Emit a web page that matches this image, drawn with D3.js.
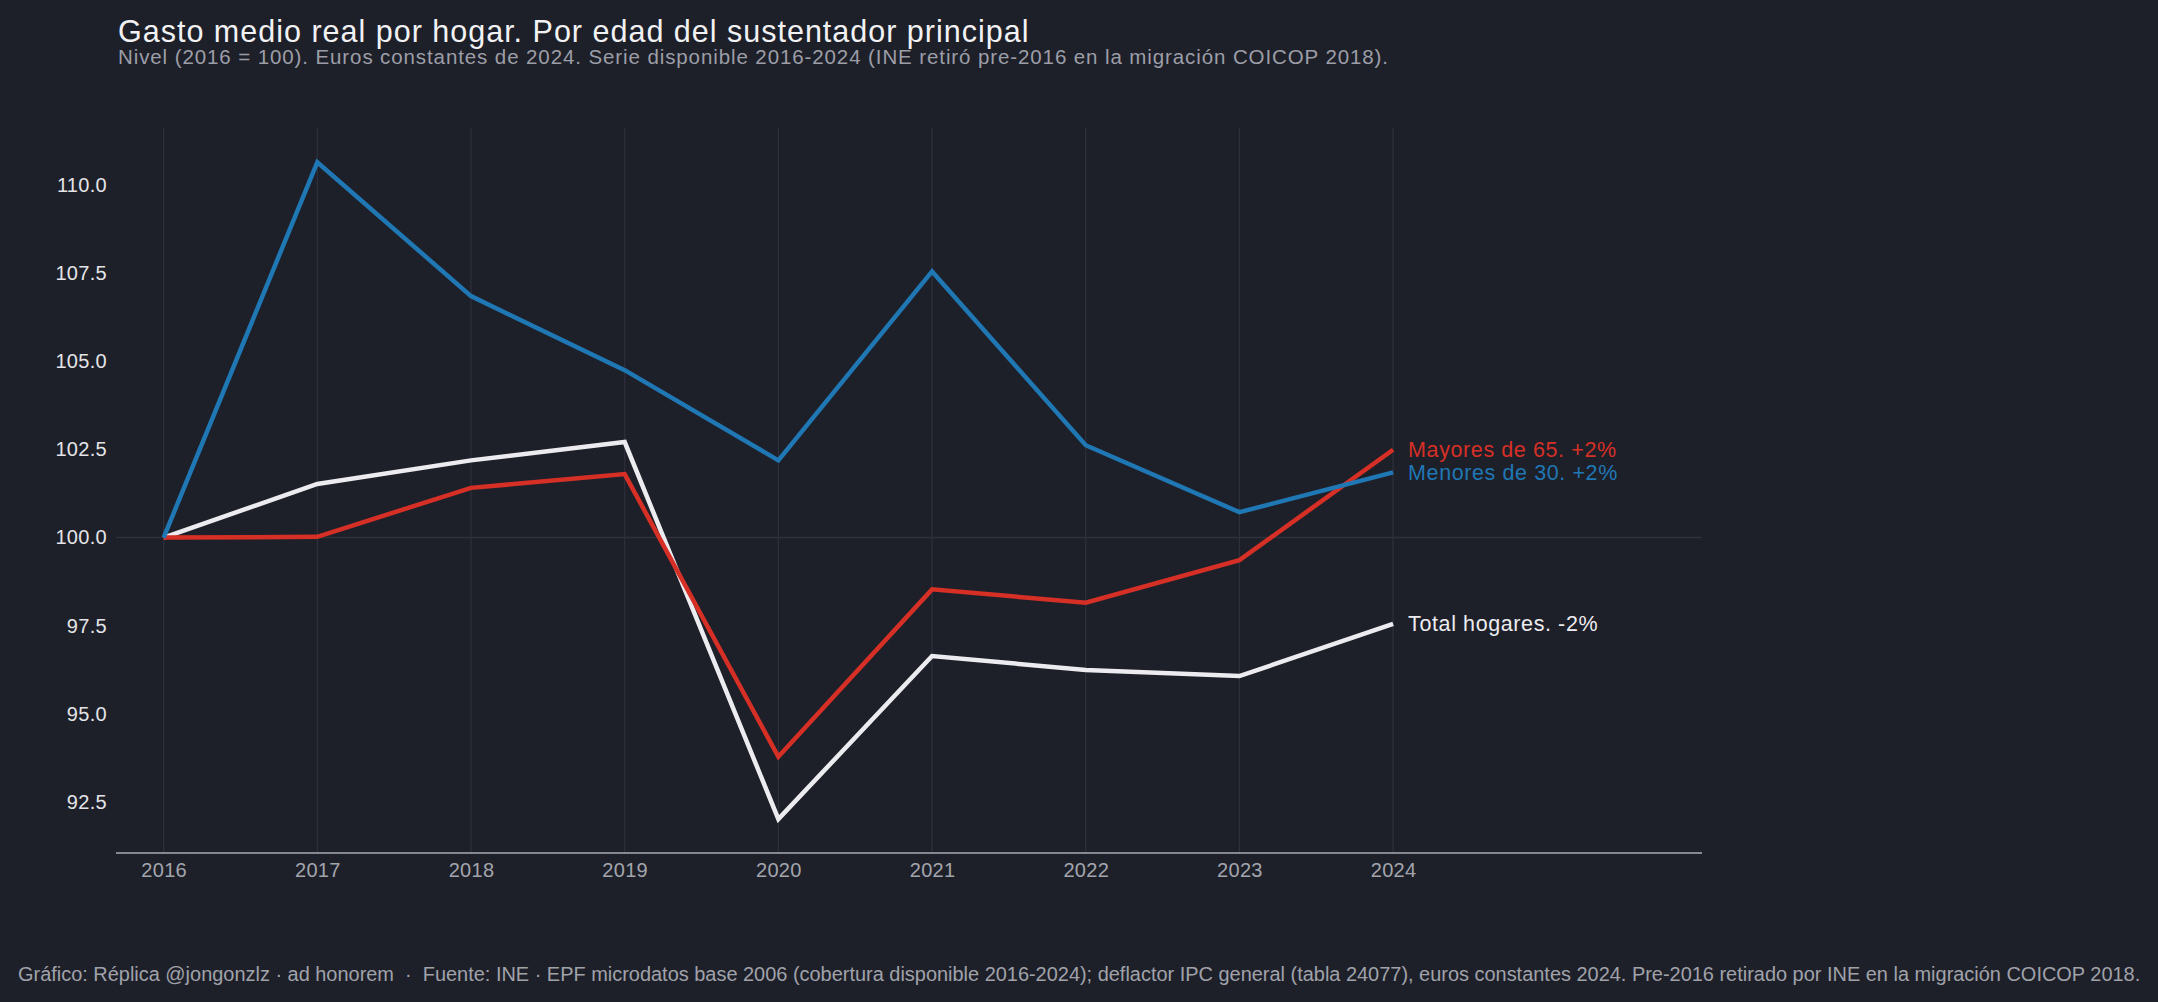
<!DOCTYPE html>
<html>
<head>
<meta charset="utf-8">
<script src="https://cdn.jsdelivr.net/npm/d3@7"></script>
<style>
  html, body { margin: 0; padding: 0; background: #1e2029; }
  svg { display: block; font-family: "Liberation Sans", Arial, Helvetica, sans-serif; }
</style>
</head>
<body>
<svg id="chart" width="2158" height="1002"></svg>
<script>
const years = [2016, 2017, 2018, 2019, 2020, 2021, 2022, 2023, 2024];
const menores30 = [100.0, 110.65, 106.85, 104.75, 102.19, 107.55, 102.62, 100.72, 101.85];
const mayores65 = [100.0, 100.02, 101.41, 101.80, 93.78, 98.53, 98.15, 99.36, 102.49];
const totalHogares = [100.0, 101.52, 102.19, 102.71, 92.01, 96.64, 96.24, 96.07, 97.55];
const yTicks = [92.5, 95.0, 97.5, 100.0, 102.5, 105.0, 107.5, 110.0];
const seriesNames = ["Total hogares. -2%", "Menores de 30. +2%", "Mayores de 65. +2%"];
const seriesColors = ["#ececf0", "#1f77b4", "#d62f26"];
const titleText = "Gasto medio real por hogar. Por edad del sustentador principal";
const subtitleText = "Nivel (2016 = 100). Euros constantes de 2024. Serie disponible 2016-2024 (INE retiró pre-2016 en la migración COICOP 2018).";
const footerText = "Gráfico: Réplica @jongonzlz · ad honorem  ·  Fuente: INE · EPF microdatos base 2006 (cobertura disponible 2016-2024); deflactor IPC general (tabla 24077), euros constantes 2024. Pre-2016 retirado por INE en la migración COICOP 2018.";

(function () {
const series = [totalHogares, menores30, mayores65];

const svg = d3.select("#chart");
svg.append("rect").attr("width", 2158).attr("height", 1002).attr("fill", "#1e2029");

const pL = 116, pR = 1702, pT = 128, pB = 853;
const x = d3.scaleLinear().domain([2015.69, 2026.01]).range([pL, pR]);
const y = d3.scaleLinear().domain([91.05, 111.62]).range([pB, pT]);

// vertical gridlines
svg.append("g").selectAll("line").data(years).join("line")
  .attr("x1", d => x(d)).attr("x2", d => x(d))
  .attr("y1", pT).attr("y2", pB)
  .attr("stroke", "#2e303b").attr("stroke-width", 1.2);

// reference line at 100
svg.append("line")
  .attr("x1", pL).attr("x2", pR)
  .attr("y1", y(100)).attr("y2", y(100))
  .attr("stroke", "#2e303b").attr("stroke-width", 1.6);

// x axis
const xAxis = svg.append("g").attr("transform", `translate(0,${pB})`)
  .call(d3.axisBottom(x).tickValues(years).tickFormat(d3.format("d")).tickSize(0).tickPadding(10));
xAxis.select(".domain").attr("stroke", "#a9abb3").attr("stroke-width", 1.6)
  .attr("d", `M${pL},0H${pR}`);
xAxis.selectAll("text").attr("fill", "#a3a5ad").attr("font-size", 20)
  .attr("font-family", "Liberation Sans, Arial, sans-serif").attr("letter-spacing", 0.3);

// y axis
const yAxis = svg.append("g").attr("transform", `translate(${pL},0)`)
  .call(d3.axisLeft(y).tickValues(yTicks).tickFormat(d3.format(".1f")).tickSize(0).tickPadding(9));
yAxis.select(".domain").remove();
yAxis.selectAll("text").attr("fill", "#e4e4e8").attr("font-size", 20)
  .attr("font-family", "Liberation Sans, Arial, sans-serif").attr("letter-spacing", 0.3);

// lines
const line = d3.line().x((d, i) => x(years[i])).y(d => y(d));
const order = [0, 2, 1];
order.forEach(k => {
  svg.append("path").datum(series[k])
    .attr("d", line)
    .attr("fill", "none")
    .attr("stroke", seriesColors[k])
    .attr("stroke-width", 4.5)
    .attr("stroke-linejoin", "miter");
});

// end labels
series.forEach((s, k) => {
  svg.append("text")
    .attr("x", x(years[years.length - 1]) + 15)
    .attr("y", y(s[s.length - 1]))
    .attr("dy", "0.35em")
    .attr("fill", seriesColors[k])
    .attr("font-size", 21.5)
    .attr("letter-spacing", 0.6)
    .text(seriesNames[k]);
});

// title and subtitle
svg.append("text").attr("x", 118).attr("y", 41.5)
  .attr("fill", "#f2f2f4").attr("font-size", 30.5).attr("letter-spacing", 1.0)
  .text(titleText);
svg.append("text").attr("x", 118).attr("y", 64)
  .attr("fill", "#9c9ea7").attr("font-size", 20.5).attr("letter-spacing", 0.9)
  .text(subtitleText);

// footer
svg.append("text").attr("x", 18).attr("y", 981)
  .attr("xml:space", "preserve").style("white-space", "pre")
  .attr("fill", "#a0a2aa").attr("font-size", 19.95)
  .text(footerText);
})();
</script>
</body>
</html>
